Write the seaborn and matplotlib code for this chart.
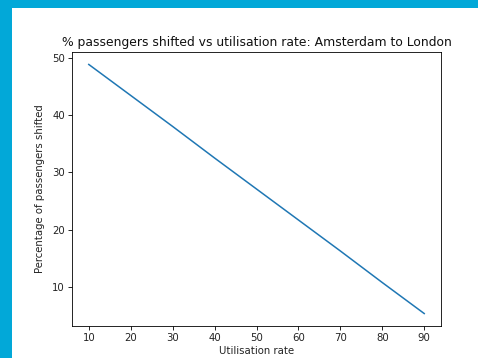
import matplotlib
matplotlib.use("Agg")
import matplotlib.pyplot as plt
import pandas as pd
import seaborn as sns
from matplotlib.patches import Rectangle

# Share of passengers shifting from air to rail at each utilisation rate
utilisation = [10, 20, 30, 40, 50, 60, 70, 80, 90]
shifted = [48.8, 43.4, 38.0, 32.5, 27.1, 21.7, 16.3, 10.8, 5.4]

df = pd.DataFrame({"Utilisation rate": utilisation, "Shifted": shifted})

plt.rcParams["font.family"] = ["DejaVu Sans"]

fig = plt.figure(figsize=(4.78, 3.58), dpi=100)
fig.patch.set_facecolor("white")

# Frame strips along the top and left edges
fig.patches.append(Rectangle((0, 0), 12 / 478, 1, transform=fig.transFigure,
                             facecolor="#02A8D8", edgecolor="none", zorder=0))
fig.patches.append(Rectangle((0, 1 - 7.5 / 358), 1, 7.5 / 358, transform=fig.transFigure,
                             facecolor="#02A8D8", edgecolor="none", zorder=0))

ax = fig.add_axes([72 / 478, 32 / 358, (441 - 72) / 478, (326 - 52) / 358])
sns.lineplot(data=df, x="Utilisation rate", y="Shifted", ax=ax,
             color="#1f77b4", linewidth=1.1)

ax.set_title("% passengers shifted vs utilisation rate: Amsterdam to London",
             fontsize=8.9, pad=4, color="#111111")
ax.set_xlabel("Utilisation rate", fontsize=7.3, labelpad=2, color="#222222")
ax.set_ylabel("Percentage of passengers shifted", fontsize=7.3, labelpad=5,
              color="#222222")
ax.set_xticks([10, 20, 30, 40, 50, 60, 70, 80, 90])
ax.set_yticks([10, 20, 30, 40, 50])
ax.tick_params(labelsize=7.3, length=2.6, width=0.6, pad=2.5, labelcolor="#222222")
for s in ax.spines.values():
    s.set_linewidth(0.6)

fig.savefig("out.png", dpi=100)
